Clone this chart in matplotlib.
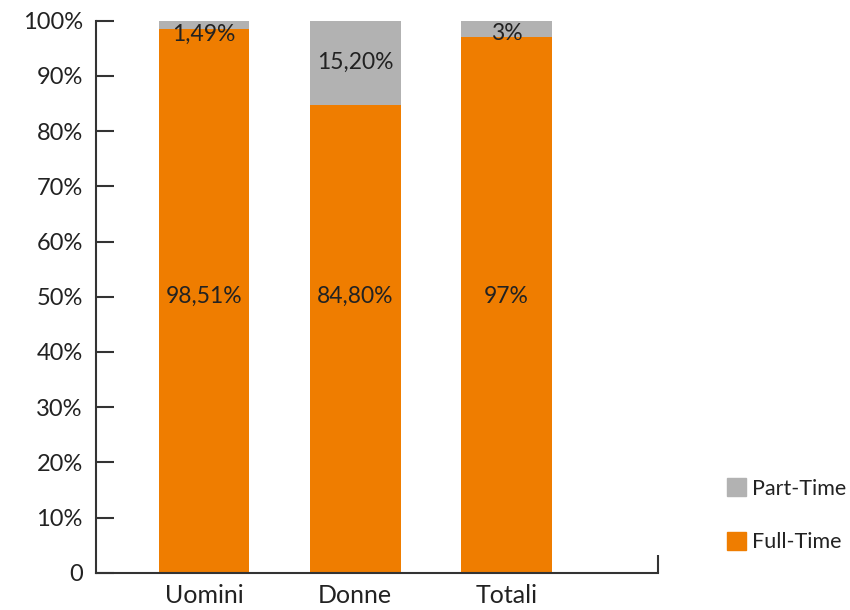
import matplotlib
matplotlib.use("Agg")
import matplotlib.pyplot as plt
from matplotlib.patches import Patch
import numpy as np

plt.rcParams['font.family'] = ['Lato', 'DejaVu Sans']

# Composizione contratti per genere
categorie = ["Uomini", "Donne", "Totali"]
full_time = [98.51, 84.80, 97.0]
part_time = [1.49, 15.20, 3.0]
etichette_full = ["98,51%", "84,80%", "97%"]
etichette_part = ["1,49%", "15,20%", "3%"]
tick_y = [0, 10, 20, 30, 40, 50, 60, 70, 80, 90, 100]
tick_y_label = ["0"] + [f"{v}%" for v in tick_y[1:]]

ARANCIO = "#EF7D00"
GRIGIO = "#B2B2B2"
TESTO = "#222222"
ASSE = "#333333"

fig = plt.figure(figsize=(8.5, 6.1), dpi=100)
ax = fig.add_axes([0.113, 0.061, 0.661, 0.905])

x = np.arange(len(categorie))
ax.bar(x, full_time, width=0.6, color=ARANCIO, label="Full-Time")
ax.bar(x, part_time, width=0.6, bottom=full_time, color=GRIGIO, label="Part-Time")

for i in range(len(categorie)):
    ax.text(x[i], 50, etichette_full[i], ha="center", va="center",
            fontsize=16.5, color=TESTO)
    # etichetta part-time al centro del segmento, senza uscire dal grafico
    y_part = min(full_time[i] + part_time[i] / 2, 97.6)
    ax.text(x[i], y_part, etichette_part[i], ha="center", va="center",
            fontsize=16.5, color=TESTO)

ax.set_xlim(-0.713, 3.0)
ax.set_ylim(0, 100)
ax.set_xticks(x)
ax.set_xticklabels(categorie)
ax.set_yticks(tick_y)
ax.set_yticklabels(tick_y_label)
ax.set_xticks([3.0], minor=True)

for s in ["top", "right"]:
    ax.spines[s].set_visible(False)
for s in ["left", "bottom"]:
    ax.spines[s].set_color(ASSE)
    ax.spines[s].set_linewidth(1.5)

ax.tick_params(axis="y", direction="in", length=13, width=1.5, color=ASSE,
               labelsize=17, labelcolor=TESTO, pad=9.5)
ax.tick_params(axis="x", which="major", length=0, labelsize=18,
               labelcolor=TESTO, pad=8)
ax.tick_params(axis="x", which="minor", direction="in", length=13, width=1.5,
               color=ASSE)

handles = [Patch(color=GRIGIO, label="Part-Time"),
           Patch(color=ARANCIO, label="Full-Time")]
fig.legend(handles=handles, loc="upper left", bbox_to_anchor=(0.855, 0.216),
           frameon=False, fontsize=15.5, handlelength=0.9, handleheight=0.9,
           handletextpad=0.28, labelspacing=1.55, labelcolor=TESTO,
           borderpad=0, borderaxespad=0)

fig.savefig("out.png", dpi=100)
